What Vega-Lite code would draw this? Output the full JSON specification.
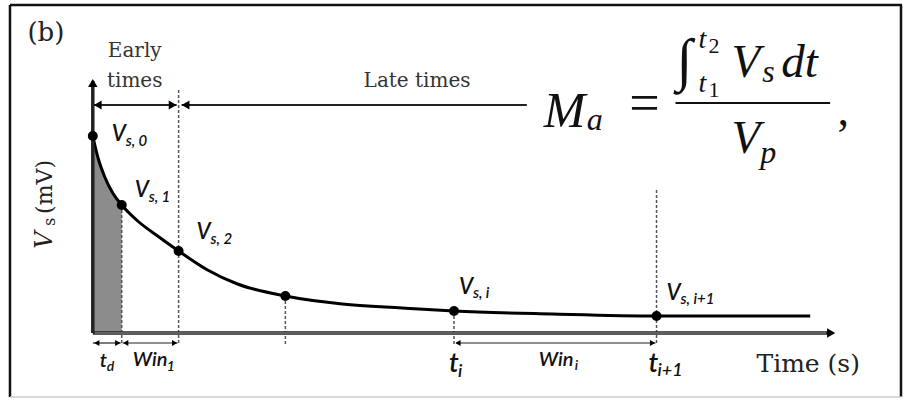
{
  "$schema": "https://vega.github.io/schema/vega-lite/v6.json",
  "width": 904,
  "height": 400,
  "autosize": {"type": "fit", "contains": "padding"},
  "padding": 0,
  "background": "white",
  "config": {"view": {"stroke": null}},
  "datasets": {
    "curve": [
      {"t": 0, "v": 19.7}, {"t": 0.5, "v": 17.6}, {"t": 1.2, "v": 15.6}, {"t": 2.0, "v": 14.0},
      {"t": 2.9, "v": 12.8}, {"t": 4.5, "v": 11.2}, {"t": 6.5, "v": 9.7}, {"t": 8.6, "v": 8.2},
      {"t": 11.5, "v": 6.3}, {"t": 14.5, "v": 4.9}, {"t": 19.3, "v": 3.7}, {"t": 25.0, "v": 2.9},
      {"t": 31.0, "v": 2.5}, {"t": 36.2, "v": 2.2}, {"t": 46.0, "v": 1.9}, {"t": 56.5, "v": 1.7},
      {"t": 71.9, "v": 1.7}
    ],
    "shade": [
      {"t": 0, "v": 19.7}, {"t": 0.5, "v": 17.6}, {"t": 1.2, "v": 15.6}, {"t": 2.0, "v": 14.0},
      {"t": 2.9, "v": 12.8}
    ],
    "dots": [
      {"t": 0, "v": 19.7}, {"t": 2.9, "v": 12.8}, {"t": 8.6, "v": 8.2},
      {"t": 19.3, "v": 3.7}, {"t": 36.2, "v": 2.2}, {"t": 56.5, "v": 1.7}
    ]
  },
  "encoding": {
    "x": {"field": "t", "type": "quantitative", "scale": {"domain": [-9.3, 81.1], "nice": false, "zero": false}, "axis": null},
    "y": {"field": "v", "type": "quantitative", "scale": {"domain": [-6.7, 33.3], "nice": false, "zero": false}, "axis": null}
  },
  "layer": [
    {
      "data": {"values": [
        {"t": -8.3, "t2": 81.1, "v": 32.8, "v2": 32.8},
        {"t": -8.3, "t2": -8.3, "v": 32.8, "v2": -6.4},
        {"t": 81.0, "t2": 81.0, "v": 32.8, "v2": -6.4}
      ]},
      "mark": {"type": "rule", "color": "#111", "strokeWidth": 2.5},
      "encoding": {"x2": {"field": "t2"}, "y2": {"field": "v2"}}
    },
    {
      "data": {"values": [{"t": -8.3, "t2": 81.1, "v": -6.4, "v2": -6.4}]},
      "mark": {"type": "rule", "color": "#cccccc", "strokeWidth": 1.5},
      "encoding": {"x2": {"field": "t2"}, "y2": {"field": "v2"}}
    },
    {
      "data": {"name": "shade"},
      "mark": {"type": "area", "color": "#8c8c8c", "interpolate": "monotone", "opacity": 1},
      "encoding": {"y2": {"datum": 0}}
    },
    {
      "data": {"values": [
        {"t": 2.9, "t2": 2.9, "v": 12.8, "v2": -1.2},
        {"t": 8.6, "t2": 8.6, "v": 24.3, "v2": -1.2},
        {"t": 19.3, "t2": 19.3, "v": 3.7, "v2": -1.2},
        {"t": 36.2, "t2": 36.2, "v": 2.2, "v2": -1.2},
        {"t": 56.5, "t2": 56.5, "v": 14.3, "v2": -1.2}
      ]},
      "mark": {"type": "rule", "color": "#555", "strokeWidth": 1.5, "strokeDash": [3, 2]},
      "encoding": {"x2": {"field": "t2"}, "y2": {"field": "v2"}}
    },
    {
      "data": {"name": "curve"},
      "mark": {"type": "line", "color": "#000", "strokeWidth": 3, "interpolate": "monotone"},
      "encoding": {}
    },
    {
      "data": {"values": [
        {"t": 0, "t2": 0, "v": 0, "v2": 25.2},
        {"t": 0, "t2": 74.0, "v": 0, "v2": 0}
      ]},
      "mark": {"type": "rule", "color": "#222", "strokeWidth": 3.5},
      "encoding": {"x2": {"field": "t2"}, "y2": {"field": "v2"}}
    },
    {
      "data": {"values": [{"t": 0.2, "t2": 73.5, "v": 0, "v2": 0}]},
      "mark": {"type": "rule", "color": "#bdbdbd", "strokeWidth": 0.8},
      "encoding": {"x2": {"field": "t2"}, "y2": {"field": "v2"}}
    },
    {
      "data": {"values": [
        {"t": 0, "t2": 8.4, "v": 22.8, "v2": 22.8},
        {"t": 8.9, "t2": 43.5, "v": 22.8, "v2": 22.8}
      ]},
      "mark": {"type": "rule", "color": "#222", "strokeWidth": 2},
      "encoding": {"x2": {"field": "t2"}, "y2": {"field": "v2"}}
    },
    {
      "data": {"values": [
        {"t": 0, "t2": 2.8, "v": -1.0, "v2": -1.0},
        {"t": 3.0, "t2": 8.5, "v": -1.0, "v2": -1.0},
        {"t": 36.4, "t2": 56.4, "v": -1.0, "v2": -1.0}
      ]},
      "mark": {"type": "rule", "color": "#222", "strokeWidth": 1.2},
      "encoding": {"x2": {"field": "t2"}, "y2": {"field": "v2"}}
    },
    {
      "data": {"values": [{"t": 8.0, "v": 22.8}]},
      "mark": {"type": "point", "shape": "triangle-right", "filled": true, "color": "#000", "size": 80, "opacity": 1},
      "encoding": {}
    },
    {
      "data": {"values": [{"t": 0.5, "v": 22.8}, {"t": 9.3, "v": 22.8}]},
      "mark": {"type": "point", "shape": "triangle-left", "filled": true, "color": "#000", "size": 80, "opacity": 1},
      "encoding": {}
    },
    {
      "data": {"values": [{"t": 2.5, "v": -1.0}, {"t": 8.2, "v": -1.0}, {"t": 56.1, "v": -1.0}]},
      "mark": {"type": "point", "shape": "triangle-right", "filled": true, "color": "#000", "size": 36, "opacity": 1},
      "encoding": {}
    },
    {
      "data": {"values": [{"t": 0.4, "v": -1.0}, {"t": 3.3, "v": -1.0}, {"t": 36.6, "v": -1.0}]},
      "mark": {"type": "point", "shape": "triangle-left", "filled": true, "color": "#000", "size": 36, "opacity": 1},
      "encoding": {}
    },
    {
      "data": {"values": [{"t": 0, "v": 25.0}]},
      "mark": {"type": "point", "shape": "triangle-up", "filled": true, "color": "#000", "size": 90, "opacity": 1},
      "encoding": {}
    },
    {
      "data": {"values": [{"t": 74.0, "v": 0}]},
      "mark": {"type": "point", "shape": "triangle-right", "filled": true, "color": "#000", "size": 90, "opacity": 1},
      "encoding": {}
    },
    {
      "data": {"name": "dots"},
      "mark": {"type": "point", "shape": "circle", "filled": true, "color": "#000", "size": 100, "opacity": 1},
      "encoding": {}
    },
    {
      "data": {"values": [{"t": -4.7, "v": 29.2, "label": "(b)"}]},
      "mark": {"type": "text", "font": "DejaVu Serif", "fontSize": 26, "align": "center", "baseline": "alphabetic", "color": "#222"},
      "encoding": {"text": {"field": "label"}}
    },
    {
      "data": {"values": [
        {"t": 4.2, "v": 27.6, "label": "Early"},
        {"t": 4.2, "v": 24.6, "label": "times"},
        {"t": 32.5, "v": 24.6, "label": "Late times"}
      ]},
      "mark": {"type": "text", "font": "DejaVu Serif", "fontSize": 20, "align": "center", "baseline": "alphabetic", "color": "#333"},
      "encoding": {"text": {"field": "label"}}
    },
    {
      "data": {"values": [{"t": 71.7, "v": -3.9, "label": "Time (s)"}]},
      "mark": {"type": "text", "font": "DejaVu Serif", "fontSize": 25, "align": "center", "baseline": "alphabetic", "color": "#222"},
      "encoding": {"text": {"field": "label"}}
    },
    {
      "data": {"values": [{"t": -4.1, "v": 9.3, "label": "V"}]},
      "mark": {"type": "text", "font": "DejaVu Serif", "fontSize": 24, "fontStyle": "italic", "angle": 270, "align": "center", "baseline": "alphabetic", "color": "#222"},
      "encoding": {"text": {"field": "label"}}
    },
    {
      "data": {"values": [{"t": -3.8, "v": 11.1, "label": "s"}]},
      "mark": {"type": "text", "font": "DejaVu Serif", "fontSize": 16, "angle": 270, "align": "center", "baseline": "alphabetic", "color": "#222"},
      "encoding": {"text": {"field": "label"}}
    },
    {
      "data": {"values": [{"t": -4.1, "v": 14.6, "label": "(mV)"}]},
      "mark": {"type": "text", "font": "DejaVu Serif", "fontSize": 22, "angle": 270, "align": "center", "baseline": "alphabetic", "color": "#222"},
      "encoding": {"text": {"field": "label"}}
    },
    {
      "data": {"values": [
        {"t": 1.9, "v": 19.2, "label": "V"},
        {"t": 4.2, "v": 13.6, "label": "V"},
        {"t": 10.4, "v": 9.4, "label": "V"},
        {"t": 36.7, "v": 3.9, "label": "V"},
        {"t": 57.5, "v": 3.3, "label": "V"}
      ]},
      "mark": {"type": "text", "font": "Lato", "fontSize": 22, "fontStyle": "italic", "fontWeight": 600, "align": "left", "baseline": "alphabetic", "color": "#111"},
      "encoding": {"text": {"field": "label"}}
    },
    {
      "data": {"values": [
        {"t": 3.3, "v": 18.7, "label": "s, 0"},
        {"t": 5.6, "v": 13.1, "label": "s, 1"},
        {"t": 11.8, "v": 8.9, "label": "s, 2"},
        {"t": 38.1, "v": 3.5, "label": "s, i"},
        {"t": 58.9, "v": 2.9, "label": "s, i+1"}
      ]},
      "mark": {"type": "text", "font": "Lato", "fontSize": 15, "fontStyle": "italic", "fontWeight": 600, "align": "left", "baseline": "alphabetic", "color": "#111"},
      "encoding": {"text": {"field": "label"}}
    },
    {
      "data": {"values": [
        {"t": 0.7, "v": -3.4, "label": "t"},
        {"t": 4.0, "v": -3.3, "label": "Win"},
        {"t": 44.7, "v": -3.3, "label": "Win"}
      ]},
      "mark": {"type": "text", "font": "Lato", "fontSize": 20, "fontStyle": "italic", "fontWeight": 600, "align": "left", "baseline": "alphabetic", "color": "#111"},
      "encoding": {"text": {"field": "label"}}
    },
    {
      "data": {"values": [
        {"t": 1.4, "v": -3.8, "label": "d"},
        {"t": 7.4, "v": -3.8, "label": "1"},
        {"t": 48.3, "v": -3.7, "label": "i"}
      ]},
      "mark": {"type": "text", "font": "Lato", "fontSize": 14, "fontStyle": "italic", "fontWeight": 600, "align": "left", "baseline": "alphabetic", "color": "#111"},
      "encoding": {"text": {"field": "label"}}
    },
    {
      "data": {"values": [
        {"t": 35.7, "v": -3.9, "label": "t"},
        {"t": 55.7, "v": -3.9, "label": "t"}
      ]},
      "mark": {"type": "text", "font": "Lato", "fontSize": 27, "fontStyle": "italic", "fontWeight": 600, "align": "left", "baseline": "alphabetic", "color": "#111"},
      "encoding": {"text": {"field": "label"}}
    },
    {
      "data": {"values": [
        {"t": 36.6, "v": -4.4, "label": "i"},
        {"t": 56.6, "v": -4.3, "label": "i+1"}
      ]},
      "mark": {"type": "text", "font": "Lato", "fontSize": 18, "fontStyle": "italic", "fontWeight": 600, "align": "left", "baseline": "alphabetic", "color": "#111"},
      "encoding": {"text": {"field": "label"}}
    },
    {
      "data": {"values": [{"t": 45.2, "v": 20.6, "label": "M"}]},
      "mark": {"type": "text", "font": "Liberation Serif", "fontSize": 50, "fontStyle": "italic", "align": "left", "baseline": "alphabetic", "color": "#111"},
      "encoding": {"text": {"field": "label"}}
    },
    {
      "data": {"values": [
        {"t": 64.0, "v": 25.6, "label": "V"},
        {"t": 69.0, "v": 25.6, "label": "dt"},
        {"t": 64.0, "v": 18.0, "label": "V"}
      ]},
      "mark": {"type": "text", "font": "Liberation Serif", "fontSize": 47, "fontStyle": "italic", "align": "left", "baseline": "alphabetic", "color": "#111"},
      "encoding": {"text": {"field": "label"}}
    },
    {
      "data": {"values": [
        {"t": 49.5, "v": 20.3, "label": "a"},
        {"t": 67.1, "v": 25.1, "label": "s"},
        {"t": 66.9, "v": 17.0, "label": "p"}
      ]},
      "mark": {"type": "text", "font": "Liberation Serif", "fontSize": 32, "fontStyle": "italic", "align": "left", "baseline": "alphabetic", "color": "#111"},
      "encoding": {"text": {"field": "label"}}
    },
    {
      "data": {"values": [
        {"t": 60.7, "v": 28.5, "label": "t"},
        {"t": 60.7, "v": 24.1, "label": "t"}
      ]},
      "mark": {"type": "text", "font": "Liberation Serif", "fontSize": 28, "fontStyle": "italic", "align": "left", "baseline": "alphabetic", "color": "#111"},
      "encoding": {"text": {"field": "label"}}
    },
    {
      "data": {"values": [
        {"t": 61.7, "v": 28.0, "label": "2"},
        {"t": 61.7, "v": 23.6, "label": "1"}
      ]},
      "mark": {"type": "text", "font": "Liberation Serif", "fontSize": 22, "align": "left", "baseline": "alphabetic", "color": "#111"},
      "encoding": {"text": {"field": "label"}}
    },
    {
      "data": {"values": [{"t": 55.3, "v": 21.2, "label": "="}]},
      "mark": {"type": "text", "font": "Liberation Serif", "fontSize": 54, "align": "center", "baseline": "alphabetic", "color": "#111"},
      "encoding": {"text": {"field": "label"}}
    },
    {
      "data": {"values": [{"t": 75.2, "v": 20.8, "label": ","}]},
      "mark": {"type": "text", "font": "Liberation Serif", "fontSize": 46, "align": "center", "baseline": "alphabetic", "color": "#111"},
      "encoding": {"text": {"field": "label"}}
    },
    {
      "data": {"values": [{"t": 58.5, "v": 25.4, "label": "∫"}]},
      "mark": {"type": "text", "font": "Liberation Serif", "fontSize": 58, "align": "left", "baseline": "alphabetic", "color": "#111"},
      "encoding": {"text": {"field": "label"}}
    },
    {
      "data": {"values": [{"t": 58.4, "t2": 73.9, "v": 23.0, "v2": 23.0}]},
      "mark": {"type": "rule", "color": "#111", "strokeWidth": 2},
      "encoding": {"x2": {"field": "t2"}, "y2": {"field": "v2"}}
    }
  ]
}
